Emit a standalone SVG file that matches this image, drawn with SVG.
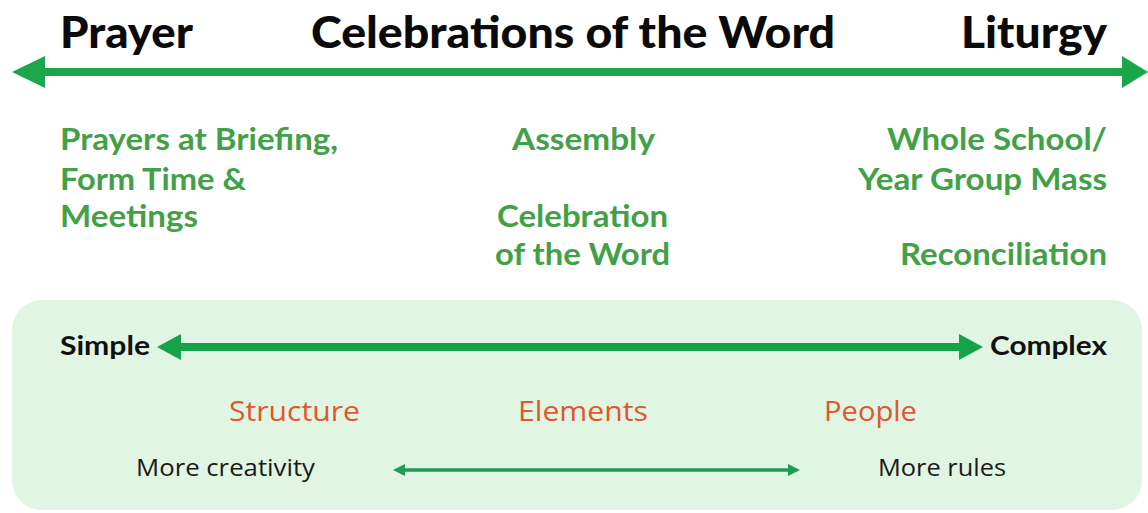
<svg xmlns="http://www.w3.org/2000/svg" width="1148" height="513" viewBox="0 0 1148 513">
<style>
.title{font-family:Lato,"Liberation Sans",sans-serif;font-weight:900;font-size:43px;fill:#0a0a0a}
.g{font-family:Lato,"Liberation Sans",sans-serif;font-weight:700;font-size:30px;fill:#42a046}
.lbl{font-family:Lato,"Liberation Sans",sans-serif;font-weight:700;font-size:26px;fill:#111}
.o{font-family:"Open Sans","Liberation Sans",sans-serif;font-size:28px;fill:#e2562e}
.s{font-family:"Open Sans","Liberation Sans",sans-serif;font-size:23px;fill:#1a1a1a}
</style>
<rect width="1148" height="513" fill="#ffffff"/>
<g id="panel">
<rect x="12" y="300" width="1130" height="210" rx="30" fill="#e0f5e2"/>
</g>
<g id="connectors">
<line x1="40" y1="72" x2="1125" y2="72" stroke="#1aa64b" stroke-width="8"/>
<polygon points="12,72 45,56 45,88" fill="#1aa64b"/>
<polygon points="1148,72 1122,56 1122,88" fill="#1aa64b"/>
<line x1="175" y1="347" x2="965" y2="347" stroke="#15a349" stroke-width="8"/>
<polygon points="157,347 181,334 181,360" fill="#15a349"/>
<polygon points="983,347 959,334 959,360" fill="#15a349"/>
<line x1="400" y1="470" x2="793" y2="470" stroke="#229954" stroke-width="3.5"/>
<polygon points="393,470 405,464 405,476" fill="#229954"/>
<polygon points="800,470 788,464 788,476" fill="#229954"/>
</g>
<g id="prayer"><text class="title" x="60" y="48" textLength="133" lengthAdjust="spacingAndGlyphs">Prayer</text></g>
<g id="celebrations"><text class="title" x="311" y="48" textLength="524" lengthAdjust="spacingAndGlyphs">Celebrations of the Word</text></g>
<g id="liturgy"><text class="title" x="961" y="48" textLength="146" lengthAdjust="spacingAndGlyphs">Liturgy</text></g>
<g id="prayers-list">
<text class="g" x="60" y="150" textLength="278" lengthAdjust="spacingAndGlyphs">Prayers at Briefing,</text>
<text class="g" x="60" y="190" textLength="186" lengthAdjust="spacingAndGlyphs">Form Time &amp;</text>
<text class="g" x="60" y="227" textLength="138" lengthAdjust="spacingAndGlyphs">Meetings</text>
</g>
<g id="middle-list">
<text class="g" x="512" y="150" textLength="143" lengthAdjust="spacingAndGlyphs">Assembly</text>
<text class="g" x="497" y="227" textLength="171" lengthAdjust="spacingAndGlyphs">Celebration</text>
<text class="g" x="495" y="265" textLength="175" lengthAdjust="spacingAndGlyphs">of the Word</text>
</g>
<g id="liturgy-list">
<text class="g" x="887" y="150" textLength="220" lengthAdjust="spacingAndGlyphs">Whole School/</text>
<text class="g" x="858" y="190" textLength="249" lengthAdjust="spacingAndGlyphs">Year Group Mass</text>
<text class="g" x="900" y="265" textLength="207" lengthAdjust="spacingAndGlyphs">Reconciliation</text>
</g>
<g id="simple"><text class="lbl" x="60" y="355" textLength="90" lengthAdjust="spacingAndGlyphs">Simple</text></g>
<g id="complex"><text class="lbl" x="990" y="355" textLength="117" lengthAdjust="spacingAndGlyphs">Complex</text></g>
<g id="structure"><text class="o" x="229" y="421" textLength="131" lengthAdjust="spacingAndGlyphs">Structure</text></g>
<g id="elements"><text class="o" x="518" y="421" textLength="130" lengthAdjust="spacingAndGlyphs">Elements</text></g>
<g id="people"><text class="o" x="824" y="421" textLength="93" lengthAdjust="spacingAndGlyphs">People</text></g>
<g id="more-creativity"><text class="s" x="136" y="476" textLength="179" lengthAdjust="spacingAndGlyphs">More creativity</text></g>
<g id="more-rules"><text class="s" x="878" y="476" textLength="128" lengthAdjust="spacingAndGlyphs">More rules</text></g>
</svg>
